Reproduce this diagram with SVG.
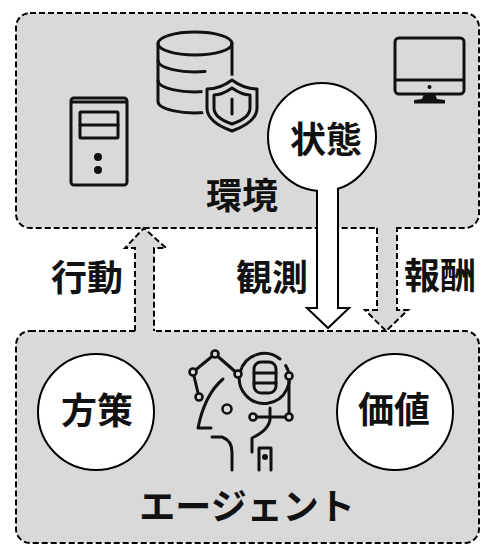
<svg xmlns="http://www.w3.org/2000/svg" width="481" height="545" viewBox="0 0 481 545">
  <style>
    .box{fill:#d9d9d9;stroke:#000;stroke-width:2;stroke-dasharray:6 3}
    .lbl{font-family:"Noto Sans CJK JP","Noto Sans CJK SC",sans-serif;font-weight:700;font-size:36px;fill:#111;text-anchor:middle}
    .ico{fill:none;stroke:#111;stroke-width:3;stroke-linecap:round;stroke-linejoin:round}
    .ring{fill:#d9d9d9;stroke:#111;stroke-width:2.6}
    .flow{fill:#d9d9d9;stroke:#000;stroke-width:2;stroke-dasharray:6 3}
    .bubble{fill:#fff;stroke:#000;stroke-width:2}
  </style>
  <rect width="481" height="545" fill="#fff"/>

  <!-- environment -->
  <g id="environment">
    <rect class="box" x="16" y="13" width="463" height="215" rx="14"/>
    <!-- server tower -->
    <g id="server" class="ico">
      <rect x="71" y="98" width="56" height="87" rx="3"/>
      <line x1="72" y1="102" x2="126" y2="102"/>
      <rect x="80" y="112" width="38" height="26" rx="1"/>
      <line x1="80" y1="125" x2="118" y2="125"/>
      <circle cx="98" cy="157" r="2.5" fill="#111"/>
      <circle cx="98" cy="170" r="2.5" fill="#111"/>
    </g>
    <!-- database with shield -->
    <g id="database" class="ico">
      <ellipse cx="195" cy="43.5" rx="37" ry="11.5"/>
      <path d="M158,43.5 V101.5 A37,11.5 0 0 0 205,112.5"/>
      <path d="M232,43.5 V78"/>
      <path d="M158,60.5 A37,11.5 0 0 0 205,71.5"/>
      <path d="M158,80.5 A37,11.5 0 0 0 205,91.5"/>
      <path d="M232,80 Q220,89 207,89 L207,108 Q207,122 232,131 Q257,122 257,108 L257,89 Q244,89 232,80 Z" fill="#d9d9d9" stroke="#d9d9d9" stroke-width="9"/>
      <path d="M232,80 Q220,89 207,89 L207,108 Q207,122 232,131 Q257,122 257,108 L257,89 Q244,89 232,80 Z"/>
      <path d="M232,88 Q222,95 214,95 L214,108 Q214,118 232,124 Q250,118 250,108 L250,95 Q242,95 232,88 Z"/>
      <line x1="232" y1="99" x2="232" y2="114"/>
    </g>
    <!-- monitor -->
    <g id="monitor">
      <rect class="ico" x="395" y="38" width="69" height="56" rx="4" stroke-width="3.5"/>
      <line class="ico" x1="396" y1="80" x2="463" y2="80" stroke-width="3"/>
      <circle cx="429.5" cy="87" r="2" fill="#111"/>
      <polygon points="424,94 435,94 437,99 445,100 445,103.5 414,103.5 414,100 422,99" fill="#111"/>
    </g>
    <text class="lbl" x="242" y="209">環境</text>
  </g>

  <!-- agent -->
  <g id="agent">
    <rect class="box" x="16" y="331" width="463" height="212" rx="14"/>
    <!-- AI head -->
    <g id="ai-head" class="ico">
      <path d="M193,372 L215,354 L238,374"/>
      <path d="M193,372 L199,397"/>
      <path d="M280,359 A25,25 0 1 0 285.7,365.5"/>
      <rect x="254" y="362" width="22" height="31" rx="7"/>
      <line x1="254" y1="373" x2="276" y2="373"/>
      <line x1="254" y1="383" x2="276" y2="383"/>
      <path d="M289,376 V417 H253"/>
      <path d="M223,379 C210,390 202,408 198,428 L211,428"/>
      <path d="M212,437 H222 C230,440 232,446 232,452 V470"/>
      <path d="M270,408 V420 C268,430 258,435 252,438 V452"/>
      <path d="M259,470 V448 H271 V470"/>
      <circle cx="265" cy="457" r="1.5" fill="#111"/>
      <circle class="ring" cx="215" cy="354" r="3.5"/>
      <circle class="ring" cx="193" cy="372" r="3.5"/>
      <circle class="ring" cx="238" cy="374" r="3.5"/>
      <circle class="ring" cx="199" cy="397" r="3.5"/>
      <circle class="ring" cx="289" cy="376" r="3.5"/>
      <circle class="ring" cx="253" cy="417" r="3.5"/>
      <circle class="ring" cx="289" cy="417" r="3.5"/>
      <circle class="ring" cx="227" cy="409" r="4.5"/>
    </g>
    <text class="lbl" x="247" y="520">エージェント</text>
  </g>

  <g id="policy">
    <circle class="bubble" cx="96" cy="412" r="58"/>
    <text class="lbl" x="97" y="424">方策</text>
  </g>
  <g id="value">
    <circle class="bubble" cx="395" cy="412" r="58"/>
    <text class="lbl" x="394" y="423">価値</text>
  </g>

  <!-- flows between environment and agent -->
  <g id="connectors">
    <!-- action: agent to environment -->
    <path class="flow" d="M135,331 V248 H125 L144,228 L166,248 H154 V331"/>
    <rect x="136" y="328" width="17" height="6" fill="#d9d9d9"/>
    <!-- reward: environment to agent -->
    <path class="flow" d="M377,228 V310 H365 L386,331 L408,310 H397 V228"/>
    <rect x="378" y="225" width="18" height="6" fill="#d9d9d9"/>
    <!-- observation of state -->
    <path d="M317,190 V308 H307 L328,328 L349,308 H338 V188" fill="#fff" stroke="#000" stroke-width="2"/>
    <text class="lbl" x="87" y="291">行動</text>
    <text class="lbl" x="272" y="291">観測</text>
    <text class="lbl" x="440" y="289">報酬</text>
  </g>

  <g id="state">
    <circle class="bubble" cx="322" cy="137" r="54"/>
    <rect x="318" y="180" width="19" height="14" fill="#fff"/>
    <text class="lbl" x="326" y="153">状態</text>
  </g>
</svg>
